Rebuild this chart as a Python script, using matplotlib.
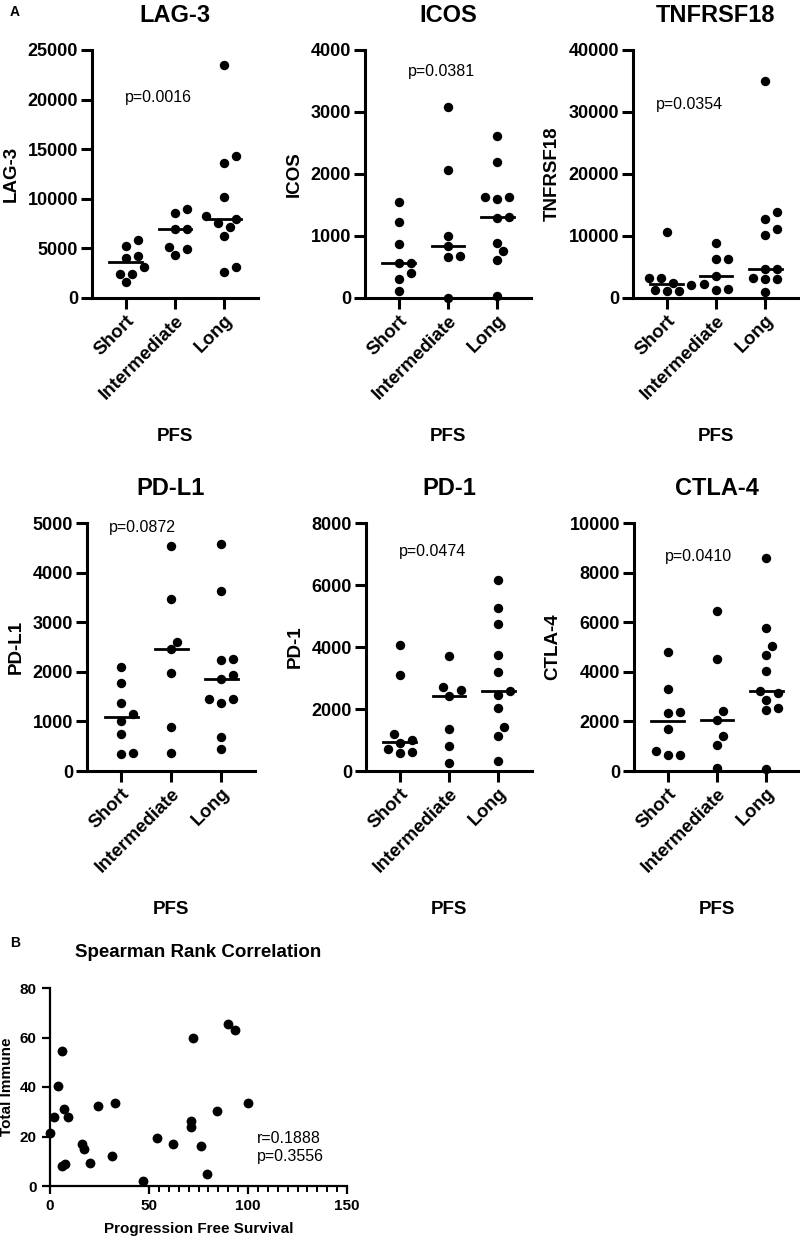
import matplotlib
matplotlib.use("Agg")
import matplotlib.pyplot as plt
import numpy as np

plt.rcParams['font.family'] = ['Liberation Sans', 'DejaVu Sans']

groups = ["Short", "Intermediate", "Long"]

# panel A values
lag3_short = [5850, 5280, 4230, 4000, 3160, 2420, 2420, 1580]
lag3_inter = [8940, 8600, 6990, 6990, 5140, 4970, 4330]
lag3_long = [23490, 14280, 13580, 10180, 8230, 7930, 7590, 7160, 6280, 3090, 2650]

icos_short = [1548, 1231, 871, 570, 570, 398, 301, 118]
icos_inter = [3081, 2070, 1005, 839, 683, 667, 5]
icos_long = [2613, 2188, 1624, 1624, 1602, 1312, 1285, 887, 758, 618, 32]

tnf_short = [10590, 3280, 3280, 2470, 2100, 1290, 1180, 1180]
tnf_inter = [8820, 6240, 6240, 3550, 2260, 1500, 1290]
tnf_long = [35000, 13870, 12740, 11180, 10110, 4730, 4600, 3280, 3120, 3010, 910]

pdl1_short = [2087, 1779, 1362, 1148, 1013, 738, 356, 342]
pdl1_inter = [4537, 3477, 2604, 2450, 1980, 893, 362]
pdl1_long = [4584, 3631, 2268, 2235, 1933, 1852, 1456, 1443, 1362, 678, 436]

pd1_short = [4070, 3100, 1208, 994, 909, 695, 620, 588]
pd1_inter = [3697, 2703, 2605, 2411, 1348, 802, 267]
pd1_long = [6173, 5243, 4757, 3741, 3178, 2595, 2443, 2032, 1422, 1123, 332]

ctla4_short = [4787, 3316, 2380, 2340, 1711, 802, 642, 642]
ctla4_inter = [6460, 4500, 2407, 2045, 1404, 1030, 134]
ctla4_long = [8595, 5784, 5054, 4689, 4014, 3210, 3140, 2850, 2550, 2450, 70]

p_values = ["p=0.0016", "p=0.0381", "p=0.0354", "p=0.0872", "p=0.0474", "p=0.0410"]

# panel B
pfs = [0, 2, 4, 6.1, 7.1, 9.1, 6.1, 7.4, 16, 17.2, 20.1, 24.1, 31.2, 33, 47.2,
       54.1, 62, 71.1, 71.1, 72.1, 76.1, 79.2, 84.1, 90, 93.4, 100.1]
immune = [21.6, 27.8, 40.6, 54.6, 31.3, 27.9, 8.2, 8.8, 16.9, 14.8, 9.4, 32.2, 12.1,
          33.7, 2.0, 19.3, 17.1, 26.4, 23.9, 60.0, 16.1, 5.0, 30.2, 65.6, 63.0, 33.6]

W, H = 800, 1240
fig = plt.figure(figsize=(8, 12.4), dpi=100)


def swarm(vals, ymax, h_px, diam=10.0, step=6.0):
    # simple beeswarm in pixel space, returns x offsets in pixels
    ypx = np.array(vals) / ymax * h_px
    offs = np.zeros(len(vals))
    placed = []
    for i in np.argsort(ypx):
        for k in range(0, 20):
            cands = [0.0] if k == 0 else [k * step, -k * step]
            ok = None
            for c in cands:
                if all((c - px) ** 2 + (ypx[i] - py) ** 2 >= (diam * 0.95) ** 2 for px, py in placed):
                    ok = c
                    break
            if ok is not None:
                offs[i] = ok
                placed.append((ok, ypx[i]))
                break
    return offs


panels = [
    ("LAG-3", [lag3_short, lag3_inter, lag3_long], 25000, 5000, (92, 50, 166), (0.40, 0.81)),
    ("ICOS", [icos_short, icos_inter, icos_long], 4000, 1000, (365, 50, 166), (0.46, 0.915)),
    ("TNFRSF18", [tnf_short, tnf_inter, tnf_long], 40000, 10000, (633, 50, 166), (0.34, 0.78)),
    ("PD-L1", [pdl1_short, pdl1_inter, pdl1_long], 5000, 1000, (87, 523, 168), (0.33, 0.98)),
    ("PD-1", [pd1_short, pd1_inter, pd1_long], 8000, 2000, (366, 523, 166), (0.40, 0.887)),
    ("CTLA-4", [ctla4_short, ctla4_inter, ctla4_long], 10000, 2000, (634, 523, 166), (0.39, 0.863)),
]

axh = 248
xlo, xhi = -0.68, 2.68
for (name, data, ymax, ystep, (lx, ty, wpx), ppos), ptxt in zip(panels, p_values):
    ax = fig.add_axes([lx / W, 1 - (ty + axh) / H, wpx / W, axh / H])
    px_per_unit = wpx / (xhi - xlo)
    for i, vals in enumerate(data):
        offs = swarm(vals, ymax, axh) / px_per_unit
        ax.scatter(i + offs, vals, s=46, color='black', zorder=3, clip_on=False, linewidths=0)
        ax.plot([i - 0.33, i + 0.33], [np.median(vals)] * 2, color='black', lw=2, zorder=4)
    ax.set_xlim(xlo, xhi)
    ax.set_ylim(0, ymax)
    ax.set_yticks(np.arange(0, ymax + 1, ystep))
    ax.set_xticks(range(3))
    ax.set_xticklabels(groups, rotation=45, ha='right', rotation_mode='anchor',
                       fontweight='bold', fontsize=13.5)
    for lab in ax.get_yticklabels():
        lab.set_fontweight('bold')
        lab.set_fontsize(13)
    for s in ['top', 'right']:
        ax.spines[s].set_visible(False)
    for s in ['left', 'bottom']:
        ax.spines[s].set_linewidth(2.2)
    ax.tick_params(width=2.2, length=8, pad=2)
    ax.set_ylabel(name, fontweight='bold', fontsize=13.5, labelpad=6)
    ax.set_xlabel("PFS", fontweight='bold', fontsize=13.5)
    ax.xaxis.set_label_coords(0.5, -0.525)
    ax.set_title(name, fontweight='bold', fontsize=17, pad=20)
    ax.text(ppos[0], ppos[1], ptxt, transform=ax.transAxes, ha='center', va='center', fontsize=11.5)

# panel B
axb = fig.add_axes([50 / W, 1 - 1186 / H, 297 / W, 198 / H])
axb.scatter(pfs, immune, s=50, color='black', zorder=3, clip_on=False, linewidths=0)
axb.set_xlim(0, 150)
axb.set_ylim(0, 80)
axb.set_xticks([0, 50, 100, 150])
axb.set_xticks(np.arange(55, 150, 5), minor=True)
axb.set_yticks([0, 20, 40, 60, 80])
for s in ['top', 'right']:
    axb.spines[s].set_visible(False)
for s in ['left', 'bottom']:
    axb.spines[s].set_linewidth(1.6)
axb.tick_params(which='major', width=1.6, length=6, labelsize=11)
axb.tick_params(which='minor', width=1.4, length=4)
for lab in axb.get_xticklabels() + axb.get_yticklabels():
    lab.set_fontweight('bold')
axb.set_xlabel("Progression Free Survival", fontweight='bold', fontsize=11, labelpad=6)
axb.set_ylabel("Total Immune", fontweight='bold', fontsize=11, labelpad=4)
axb.set_title("Spearman Rank Correlation", fontweight='bold', fontsize=13.5, pad=22)
axb.text(0.697, 0.195, "r=0.1888\np=0.3556", transform=axb.transAxes, ha='left', va='center',
         fontsize=11.5, linespacing=1.2)

fig.text(10 / W, 1 - 12 / H, "A", fontweight='bold', fontsize=10, va='center')
fig.text(10 / W, 1 - 943 / H, "B", fontweight='bold', fontsize=10, va='center')

fig.savefig("out.png", dpi=100)
